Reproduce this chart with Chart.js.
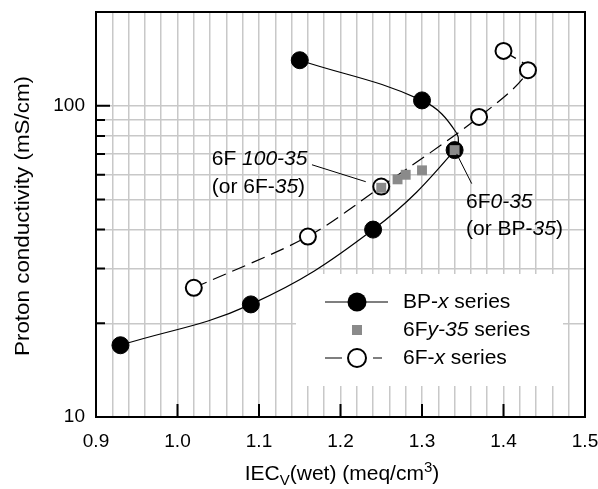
<!DOCTYPE html>
<html>
<head>
<meta charset="utf-8">
<script src="https://cdn.jsdelivr.net/npm/chart.js@4/dist/chart.umd.min.js"></script>
<style>
html, body { margin: 0; padding: 0; background: #fff; }
#wrap { width: 598px; height: 489px; }
</style>
</head>
<body>
<div id="wrap"><canvas id="chart" width="598" height="489"></canvas></div>
<script>
// BP-x series (filled circles)
const bpX = [0.93, 1.09, 1.24, 1.34, 1.30, 1.15];
const bpY = [17, 23, 40, 72, 104, 140];
// line drawn through the BP-x series (incl. its turning point)
const bpCurveX = [0.93, 1.09, 1.24, 1.34, 1.342, 1.30, 1.15];
const bpCurveY = [17, 23, 40, 72, 82, 104, 140];

// 6F-x series (open circles, dashed line)
const fxX = [1.02, 1.16, 1.25, 1.37, 1.43, 1.40];
const fxY = [26, 38, 55, 92, 130, 150];

// 6Fy-35 series (grey squares)
const fyX = [1.25, 1.27, 1.28, 1.30, 1.34];
const fyY = [54.5, 58, 60, 62, 72];

// axes
const xLabels = [0.9, 1.0, 1.1, 1.2, 1.3, 1.4, 1.5];
const yLabels = [10, 100];
const yGridValues = [20, 30, 40, 50, 60, 70, 80, 90, 100];
const yMinorTicks = [20, 30, 40, 50, 60, 70, 80, 90];

const FONT = "'Liberation Sans', Arial, Helvetica, sans-serif";
const GRID = '#c8c8c8';
const GREY = '#8a8a8a';

const toPts = (xs, ys) => xs.map((x, i) => ({ x: x, y: ys[i] }));

// vertical grid every 0.02
const xGridValues = [];
for (let i = 0; i <= 30; i++) xGridValues.push(Math.round((0.9 + i * 0.02) * 100) / 100);

// draw text made of normal / italic pieces
function drawPieces(ctx, pieces, x, y, size) {
    let cx = x;
    pieces.forEach(p => {
        ctx.font = (p[1] ? 'italic ' : '') + size + 'px ' + FONT;
        ctx.fillText(p[0], cx, y);
        cx += ctx.measureText(p[0]).width;
    });
}

const decor = {
    id: 'decor',
    beforeDatasetsDraw(chart) {
        const ctx = chart.ctx;
        // white legend box hides the grid behind it
        ctx.save();
        ctx.fillStyle = '#fff';
        ctx.fillRect(296, 274, 267, 112);
        ctx.restore();
    },
    afterDatasetsDraw(chart) {
        const ctx = chart.ctx;
        const a = chart.chartArea;
        const xs = chart.scales.x, ys = chart.scales.y;
        const px = v => xs.getPixelForValue(v);
        const py = v => ys.getPixelForValue(v);
        ctx.save();

        // frame
        ctx.strokeStyle = '#000';
        ctx.lineWidth = 2;
        ctx.strokeRect(a.left, a.top, a.right - a.left, a.bottom - a.top);

        // inward tick marks
        ctx.beginPath();
        [1.0, 1.1, 1.2, 1.3, 1.4].forEach(v => {
            ctx.moveTo(px(v), a.bottom);
            ctx.lineTo(px(v), a.bottom - 13);
        });
        ctx.moveTo(a.left, py(100));
        ctx.lineTo(a.left + 14, py(100));
        yMinorTicks.forEach(v => {
            ctx.moveTo(a.left, py(v));
            ctx.lineTo(a.left + 9, py(v));
        });
        ctx.stroke();

        // annotation leader lines
        ctx.lineWidth = 1;
        ctx.beginPath();
        ctx.moveTo(px(1.165), py(64.6));
        ctx.lineTo(px(1.231), py(57.0));
        ctx.moveTo(px(1.3426), py(70.0));
        ctx.lineTo(px(1.361), py(56.2));
        ctx.stroke();

        // annotation texts
        ctx.fillStyle = '#000';
        ctx.textBaseline = 'alphabetic';
        ctx.textAlign = 'left';
        drawPieces(ctx, [['6F ', false], ['100-35', true]], px(1.042), py(64.6), 21);
        drawPieces(ctx, [['(or 6F-', false], ['35', true], [')', false]], px(1.042), py(52.4), 21);
        drawPieces(ctx, [['6F', false], ['0-35', true]], px(1.354), py(47.0), 21);
        drawPieces(ctx, [['(or BP-', false], ['35', true], [')', false]], px(1.354), py(38.5), 21);

        // legend
        const mx = 357, rows = [302, 330, 358];
        ctx.lineWidth = 1.2;
        ctx.beginPath();
        ctx.moveTo(325, rows[0]); ctx.lineTo(388, rows[0]);
        ctx.moveTo(325, rows[2]); ctx.lineTo(342, rows[2]);
        ctx.moveTo(373, rows[2]); ctx.lineTo(382, rows[2]);
        ctx.stroke();
        ctx.beginPath();
        ctx.arc(mx, rows[0], 9.5, 0, Math.PI * 2);
        ctx.fill();
        ctx.fillStyle = GREY;
        ctx.fillRect(mx - 5, rows[1] - 5, 10, 10);
        ctx.beginPath();
        ctx.arc(mx, rows[2], 9, 0, Math.PI * 2);
        ctx.fillStyle = '#fff';
        ctx.fill();
        ctx.lineWidth = 2;
        ctx.stroke();
        ctx.fillStyle = '#000';
        ctx.textBaseline = 'middle';
        drawPieces(ctx, [['BP-', false], ['x', true], [' series', false]], 403, rows[0], 21);
        drawPieces(ctx, [['6F', false], ['y-35', true], [' series', false]], 403, rows[1], 21);
        drawPieces(ctx, [['6F-', false], ['x', true], [' series', false]], 403, rows[2], 21);

        // y axis title
        ctx.save();
        ctx.translate(29, 216);
        ctx.rotate(-Math.PI / 2);
        ctx.font = '21px ' + FONT;
        ctx.textAlign = 'center';
        ctx.textBaseline = 'alphabetic';
        const yt = 'Proton conductivity (mS/cm)';
        const k = 280 / ctx.measureText(yt).width;
        ctx.scale(k, 1);
        ctx.fillText(yt, 0, 0);
        ctx.restore();

        // x axis title with sub/superscript
        const parts = [
            ['IEC', 21, 0], ['V', 15, 5], ['(wet) (meq/cm', 21, 0], ['3', 15, -8], [')', 21, 0]
        ];
        ctx.textAlign = 'left';
        ctx.textBaseline = 'alphabetic';
        let total = 0;
        parts.forEach(p => { ctx.font = p[1] + 'px ' + FONT; total += ctx.measureText(p[0]).width; });
        let cx = 342 - total / 2;
        parts.forEach(p => {
            ctx.font = p[1] + 'px ' + FONT;
            ctx.fillText(p[0], cx, 480 + p[2]);
            cx += ctx.measureText(p[0]).width;
        });

        ctx.restore();
    }
};

new Chart(document.getElementById('chart'), {
    type: 'scatter',
    data: {
        datasets: [
            {
                label: 'BP curve',
                data: toPts(bpCurveX, bpCurveY),
                showLine: true,
                tension: 0.4,
                borderColor: '#000',
                borderWidth: 1.2,
                pointRadius: 0,
                order: 5
            },
            {
                label: '6F-x curve',
                data: toPts(fxX, fxY),
                showLine: true,
                tension: 0.3,
                borderColor: '#000',
                borderWidth: 1.2,
                borderDash: [14, 7],
                pointRadius: 0,
                order: 4
            },
            {
                label: 'BP-x series',
                data: toPts(bpX, bpY),
                showLine: false,
                pointRadius: 8.5,
                pointBackgroundColor: '#000',
                pointBorderColor: '#000',
                pointBorderWidth: 1,
                order: 2
            },
            {
                label: '6F-x series',
                data: toPts(fxX, fxY),
                showLine: false,
                pointRadius: 8,
                pointBackgroundColor: '#fff',
                pointBorderColor: '#000',
                pointBorderWidth: 2,
                order: 1
            },
            {
                label: '6Fy-35 series',
                data: toPts(fyX, fyY),
                showLine: false,
                pointStyle: 'rect',
                pointRadius: 7,
                pointBackgroundColor: GREY,
                pointBorderColor: GREY,
                pointBorderWidth: 0,
                order: 0
            }
        ]
    },
    options: {
        responsive: false,
        animation: false,
        layout: { padding: { top: 12, right: 13, left: 0, bottom: 0 } },
        plugins: {
            legend: { display: false },
            tooltip: { enabled: false }
        },
        scales: {
            x: {
                type: 'linear',
                min: 0.9,
                max: 1.5,
                afterBuildTicks: s => { s.ticks = xGridValues.map(v => ({ value: v })); },
                afterFit: s => { s.height = 72; s.paddingLeft = 0; s.paddingRight = 0; },
                border: { display: false },
                grid: { color: GRID, lineWidth: 1.5, drawTicks: false },
                ticks: {
                    autoSkip: false,
                    maxRotation: 0,
                    padding: 13,
                    color: '#000',
                    font: { family: FONT, size: 19 },
                    callback: v => {
                        const hit = xLabels.find(t => Math.abs(t - v) < 1e-6);
                        return hit !== undefined ? hit.toFixed(1) : '';
                    }
                }
            },
            y: {
                type: 'logarithmic',
                min: 10,
                max: 200,
                afterBuildTicks: s => {
                    s.ticks = [10].concat(yGridValues, [200]).map(v => ({ value: v }));
                },
                afterFit: s => { s.width = 96; s.paddingTop = 0; s.paddingBottom = 0; },
                border: { display: false },
                grid: {
                    drawTicks: false,
                    lineWidth: 1.5,
                    color: c => yGridValues.includes(c.tick && c.tick.value) ? GRID : 'rgba(0,0,0,0)'
                },
                ticks: {
                    autoSkip: false,
                    padding: 11,
                    color: '#000',
                    font: { family: FONT, size: 19 },
                    callback: v => yLabels.includes(v) ? String(v) : ''
                }
            }
        }
    },
    plugins: [decor]
});
</script>
</body>
</html>
